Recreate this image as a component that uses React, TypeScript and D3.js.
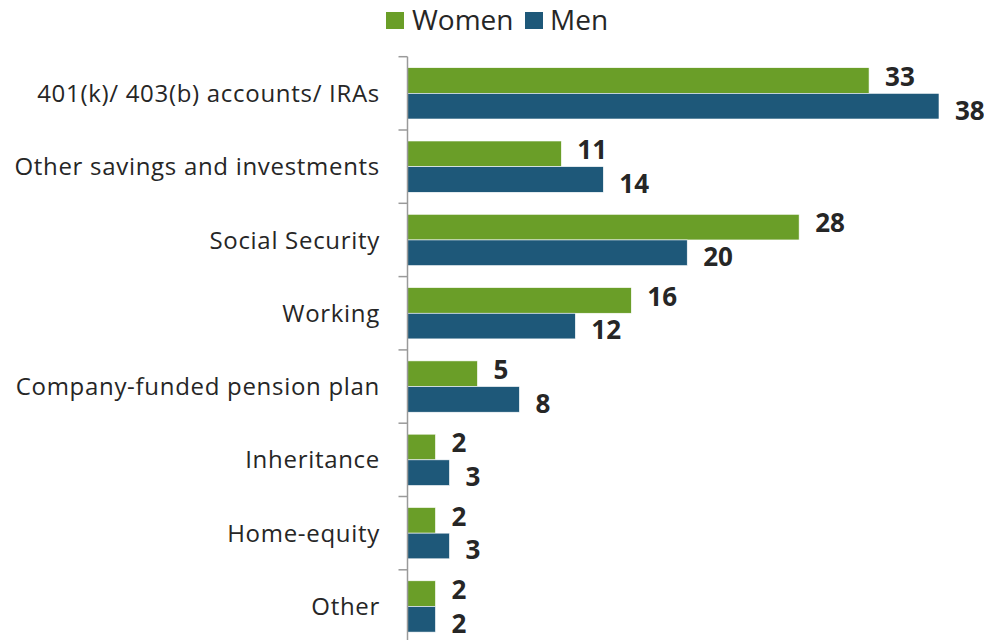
import React from "react";
import * as d3 from "d3";

const categories = [
  "401(k)/ 403(b) accounts/ IRAs",
  "Other savings and investments",
  "Social Security",
  "Working",
  "Company-funded pension plan",
  "Inheritance",
  "Home-equity",
  "Other",
];
const women = [33, 11, 28, 16, 5, 2, 2, 2];
const men = [38, 14, 20, 12, 8, 3, 3, 2];
const seriesNames = ["Women", "Men"];
const colors = ["#6a9e28", "#1e5879"];

const W = 984;
const H = 640;
const left = 407.5;
const top = 56.7;
const band = 73.3;

export default function App() {
  const x = d3.scaleLinear().domain([0, 38]).range([left, 939]);
  const y = d3
    .scaleBand<string>()
    .domain(categories)
    .range([top, top + band * categories.length])
    .paddingInner(0.3)
    .paddingOuter(0.15);
  const sub = d3
    .scaleBand<string>()
    .domain(seriesNames)
    .range([0, y.bandwidth()]);
  const data = [women, men];
  const font = "'Open Sans', sans-serif";
  return (
    <svg
      width={W}
      height={H}
      style={{ position: "absolute", left: 0, top: 0, background: "#fff" }}
    >
      {/* legend */}
      <g fontFamily={font} fontSize={28} fill="#262626">
        <rect x={386} y={12} width={18} height={17} fill={colors[0]} />
        <text x={412} y={30}>Women</text>
        <rect x={525} y={12} width={18} height={17} fill={colors[1]} />
        <text x={550} y={30}>Men</text>
      </g>
      {/* bars */}
      {categories.map((c, i) =>
        seriesNames.map((s, j) => {
          const v = data[j][i];
          const by = (y(c) as number) + (sub(s) as number);
          return (
            <g key={c + s}>
              <rect
                x={x(0)}
                y={by}
                width={x(v) - x(0)}
                height={sub.bandwidth()}
                fill={colors[j]}
                stroke="#fff"
                strokeWidth={0.6}
              />
              <text
                x={x(v) + 16}
                y={by + sub.bandwidth() / 2 + (j === 0 ? -4 : 4)}
                dy="0.36em"
                fontFamily={font}
                fontWeight="bold"
                fontSize={26}
                fill="#262626"
              >
                {v}
              </text>
            </g>
          );
        })
      )}
      {/* axis */}
      <g stroke="#9a9a9a" strokeWidth={1.5}>
        <line x1={left} x2={left} y1={top} y2={H} />
        {d3.range(categories.length + 1).map((k) => (
          <line
            key={k}
            x1={left - 9}
            x2={left}
            y1={top + k * band}
            y2={top + k * band}
          />
        ))}
      </g>
      {/* category labels */}
      <g
        fontFamily={font}
        fontSize={24}
        letterSpacing={0.7}
        fill="#262626"
        textAnchor="end"
      >
        {categories.map((c) => (
          <text
            key={c}
            x={380}
            y={(y(c) as number) + y.bandwidth() / 2}
            dy="0.36em"
          >
            {c}
          </text>
        ))}
      </g>
    </svg>
  );
}
